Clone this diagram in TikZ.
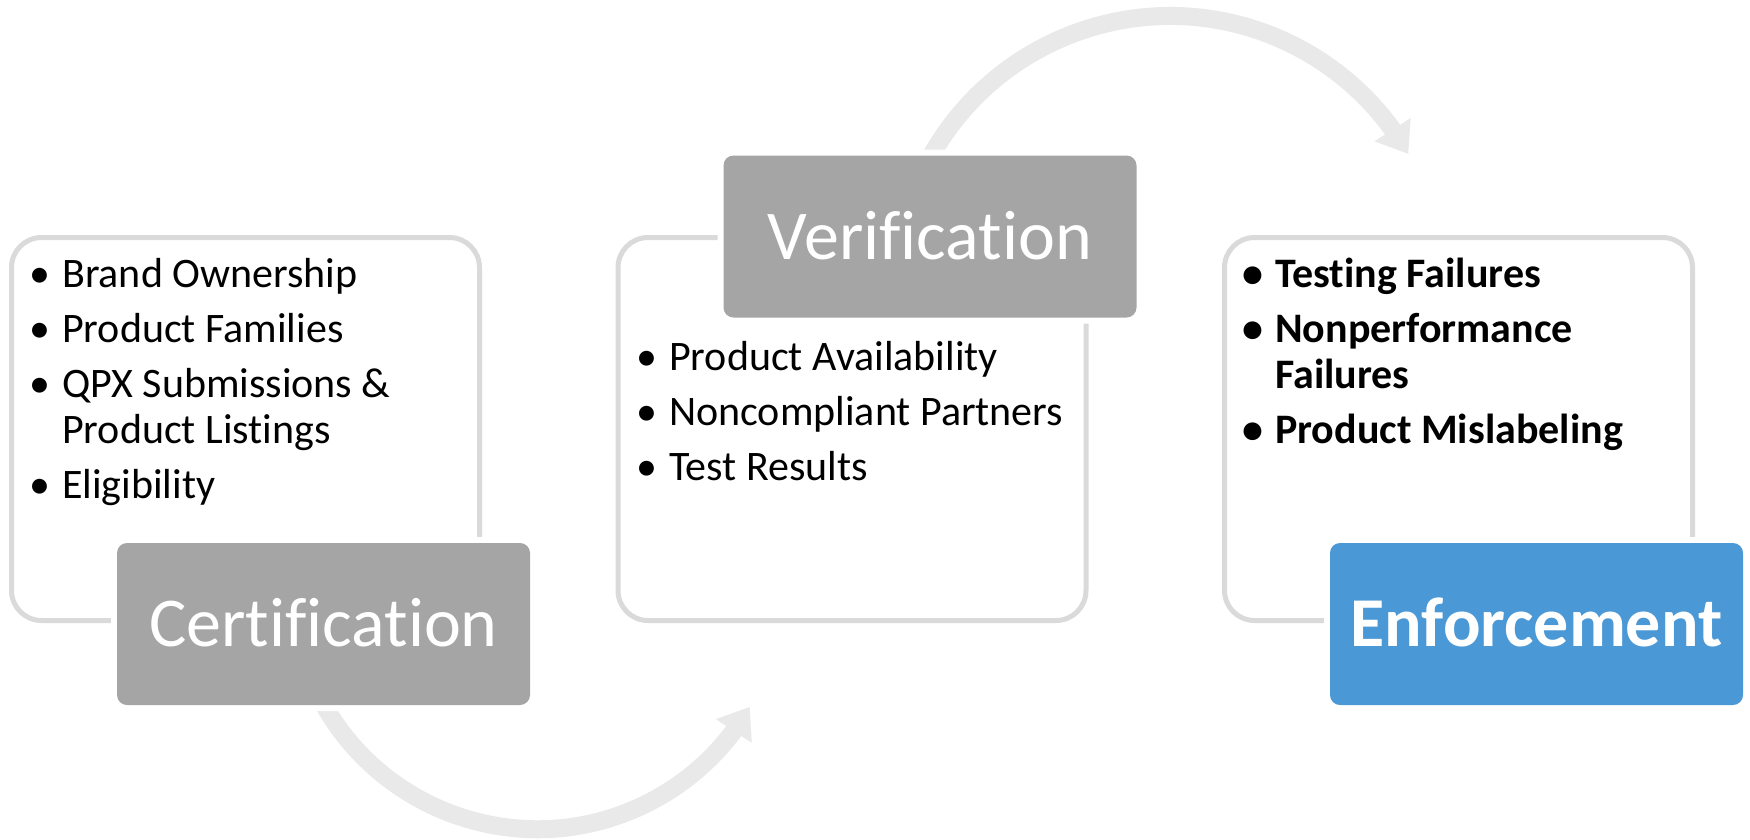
\documentclass[tikz,border=0pt]{standalone}
\usepackage{fontspec}
\setmainfont{Carlito}[Ligatures=NoCommon]
\usetikzlibrary{arrows.meta,bending,calc}
\definecolor{framegray}{HTML}{DADADA}
\definecolor{arcgray}{HTML}{E9E9E9}
\definecolor{headgray}{HTML}{A5A5A5}
\definecolor{headblue}{HTML}{4A98D5}
% bullet set in a fixed-width slot so every item text starts at the same x
\newcommand\listbullet{\makebox[36.5pt][l]{\hspace{3.5pt}\textbullet}}
\begin{document}
\begin{tikzpicture}[x=1pt,y=-1pt,
  panel/.style={draw=framegray, line width=5pt, fill=white, rounded corners=30pt,
    minimum width=468pt, minimum height=383pt, inner sep=0pt},
  stage/.style={fill=headgray, rounded corners=10pt, minimum width=413pt,
    minimum height=162pt, inner sep=0pt, text=white,
    font=\fontsize{70}{84}\selectfont, text height=45pt, text depth=0pt,
    preaction={draw=white, line width=12pt}},
  itemlist/.style={anchor=base west, inner sep=0pt, font=\fontsize{42}{46}\selectfont},
  flow/.style={draw=arcgray, line width=18pt,
    -{Triangle[width=41pt,length=29pt,flex]}}
]
\useasboundingbox (0,0) rectangle (1750,839);

% content panels
\node[panel] (certpanel) at (245.5,429) {};
\node[panel] (verifpanel) at (852,429) {};
\node[panel] (enfpanel) at (1458.5,429) {};

% curved flow arrows (their tails run under the stage boxes)
\coordinate (lowc) at (537.4,583.7);
\coordinate (highc) at (1170.2,290.4);
\draw[flow] ($(lowc)+(155:245.5)$) arc[start angle=155, end angle=30.1, radius=245.5];
\draw[flow] ($(highc)+(-155:274.4)$) arc[start angle=-155, end angle=-29.8, radius=274.4];

% stage headers
\node[stage] (cert) at (323.5,624) {Certification};
\node[stage] (verif) at (930,236.5) {Verification};
\node[stage, fill=headblue, font=\bfseries\fontsize{70}{84}\selectfont] (enf) at (1536.5,624) {Enforcement};

% bullet lists
\node[itemlist] (certitems) at (25.5,287) {\begin{tabular}[t]{@{}l@{}l@{}}
\listbullet & Brand Ownership\\[9pt]
\listbullet & Product Families\\[9pt]
\listbullet & QPX Submissions \&\\
 & Product Listings\\[9pt]
\listbullet & Eligibility
\end{tabular}};

\node[itemlist] (verifitems) at (632.5,370) {\begin{tabular}[t]{@{}l@{}l@{}}
\listbullet & Product Availability\\[9pt]
\listbullet & Noncompliant Partners\\[9pt]
\listbullet & Test Results
\end{tabular}};

\node[itemlist, font=\bfseries\fontsize{42}{46}\selectfont] (enfitems) at (1238.5,287) {\begin{tabular}[t]{@{}l@{}l@{}}
\listbullet & Testing Failures\\[9pt]
\listbullet & Nonperformance\\
 & Failures\\[9pt]
\listbullet & Product Mislabeling
\end{tabular}};
\end{tikzpicture}
\end{document}
